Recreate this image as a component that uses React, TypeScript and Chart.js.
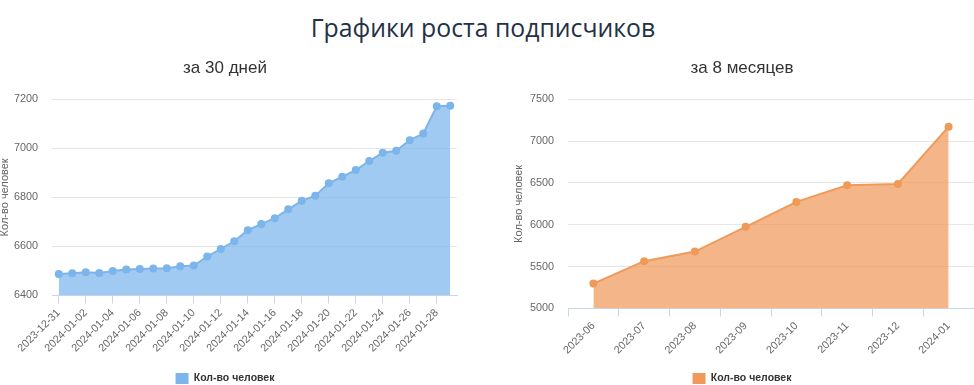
import React, { useEffect, useRef } from 'react';
import { Chart, registerables } from 'chart.js';

Chart.register(...registerables);

const pageTitle = 'Графики роста подписчиков';
const seriesName = 'Кол-во человек';
const dailyTitle = 'за 30 дней';
const monthlyTitle = 'за 8 месяцев';

const dailyLabels = [
  '2023-12-31', '2024-01-01', '2024-01-02', '2024-01-03', '2024-01-04', '2024-01-05',
  '2024-01-06', '2024-01-07', '2024-01-08', '2024-01-09', '2024-01-10', '2024-01-11',
  '2024-01-12', '2024-01-13', '2024-01-14', '2024-01-15', '2024-01-16', '2024-01-17',
  '2024-01-18', '2024-01-19', '2024-01-20', '2024-01-21', '2024-01-22', '2024-01-23',
  '2024-01-24', '2024-01-25', '2024-01-26', '2024-01-27', '2024-01-28', '2024-01-29',
];
const dailyValues = [
  6488, 6491, 6495, 6492, 6500, 6506, 6508, 6510, 6511, 6519,
  6522, 6559, 6590, 6621, 6666, 6691, 6715, 6751, 6786, 6807,
  6857, 6884, 6911, 6948, 6982, 6990, 7033, 7060, 7171, 7173,
];
const dailyYTicks = [6400, 6600, 6800, 7000, 7200];

const monthlyLabels = ['2023-06', '2023-07', '2023-08', '2023-09', '2023-10', '2023-11', '2023-12', '2024-01'];
const monthlyValues = [5298, 5565, 5680, 5975, 6273, 6472, 6488, 7172];
const monthlyYTicks = [5000, 5500, 6000, 6500, 7000, 7500];

const FONT = "'Liberation Sans', Arial, sans-serif";

type Spec = {
  title: string;
  labels: string[];
  values: number[];
  yTicks: number[];
  line: string;
  fill: string;
  yWidth: number;
  xHeight: number;
  yTitlePad: number;
  everyOther: boolean;
};

function buildConfig(s: Spec): any {
  return {
    type: 'line',
    data: {
      labels: s.labels,
      datasets: [
        {
          label: seriesName,
          data: s.values,
          borderColor: s.line,
          backgroundColor: s.fill,
          fill: 'start',
          borderWidth: 2,
          tension: 0,
          pointRadius: 4,
          pointHoverRadius: 4,
          pointBackgroundColor: s.line,
          pointBorderColor: s.line,
          pointBorderWidth: 0,
        },
      ],
    },
    options: {
      responsive: false,
      animation: false,
      layout: { padding: 0 },
      plugins: {
        title: {
          display: true,
          text: s.title,
          color: '#333333',
          font: { family: FONT, size: 17, weight: 'normal' },
          padding: { top: 8.4, bottom: 20.4 },
        },
        legend: {
          position: 'bottom',
          labels: {
            boxWidth: 13,
            boxHeight: 11,
            padding: 10,
            color: '#333333',
            font: { family: FONT, size: 10.5, weight: 'bold' },
            generateLabels: (chart: any) =>
              (Chart.defaults.plugins.legend.labels as any)
                .generateLabels(chart)
                .map((l: any) => ({ ...l, fillStyle: s.line, strokeStyle: s.line, lineWidth: 0 })),
          },
        },
        tooltip: { enabled: false },
      },
      scales: {
        x: {
          offset: true,
          grid: {
            offset: !s.everyOther,
            drawOnChartArea: false,
            drawTicks: true,
            tickLength: 8,
            color: '#ccd6eb',
          },
          border: { display: true, color: '#ccd6eb' },
          ticks: {
            autoSkip: false,
            maxRotation: 45,
            minRotation: 45,
            padding: 3,
            color: '#666666',
            font: { family: FONT, size: 10.8 },
            callback: (_v: any, i: number) => (s.everyOther && i % 2 ? null : s.labels[i]),
          },
          afterFit: (sc: any) => {
            sc.height = s.xHeight;
            sc.paddingLeft = 0;
            sc.paddingRight = 0;
          },
        },
        y: {
          min: s.yTicks[0],
          max: s.yTicks[s.yTicks.length - 1],
          ticks: {
            stepSize: s.yTicks[1] - s.yTicks[0],
            color: '#666666',
            padding: 14,
            font: { family: FONT, size: 10.8 },
            callback: (v: any) => String(v),
          },
          grid: { color: '#e6e6e6', drawTicks: false },
          border: { display: false },
          title: {
            display: true,
            text: seriesName,
            color: '#666666',
            font: { family: FONT, size: 11 },
            padding: { top: s.yTitlePad, bottom: 0 },
          },
          afterFit: (sc: any) => {
            sc.width = s.yWidth;
            sc.paddingTop = 0;
            sc.paddingBottom = 0;
          },
        },
      },
    },
  };
}

function LineChart({ spec, left, width }: { spec: Spec; left: number; width: number }) {
  const ref = useRef<HTMLCanvasElement | null>(null);
  useEffect(() => {
    if (!ref.current) return;
    const chart = new Chart(ref.current, buildConfig(spec));
    return () => chart.destroy();
  }, []);
  return (
    <canvas
      ref={ref}
      width={width}
      height={344}
      style={{ position: 'absolute', left, top: 50, width, height: 344 }}
    />
  );
}

export default function App() {
  const dailySpec: Spec = {
    title: dailyTitle,
    labels: dailyLabels,
    values: dailyValues,
    yTicks: dailyYTicks,
    line: '#7cb5ec',
    fill: 'rgba(124,181,236,0.72)',
    yWidth: 63,
    xHeight: 67.5,
    yTitlePad: 9.4,
    everyOther: true,
  };
  const monthlySpec: Spec = {
    title: monthlyTitle,
    labels: monthlyLabels,
    values: monthlyValues,
    yTicks: monthlyYTicks,
    line: '#f09a5a',
    fill: 'rgba(240,154,90,0.72)',
    yWidth: 62,
    xHeight: 54.5,
    yTitlePad: 6.4,
    everyOther: false,
  };
  return (
    <div
      style={{
        position: 'fixed',
        left: 0,
        top: 0,
        width: 974,
        height: 385,
        overflow: 'hidden',
        background: '#ffffff',
      }}
    >
      <div
        style={{
          position: 'absolute',
          left: 0,
          top: 13,
          width: 966,
          textAlign: 'center',
          fontFamily: "'Open Sans', sans-serif",
          fontSize: 24.8,
          lineHeight: '29px',
          color: '#243145',
          whiteSpace: 'nowrap',
        }}
      >
        {pageTitle}
      </div>
      <LineChart spec={dailySpec} left={-11} width={472} />
      <LineChart spec={monthlySpec} left={506} width={472} />
    </div>
  );
}
